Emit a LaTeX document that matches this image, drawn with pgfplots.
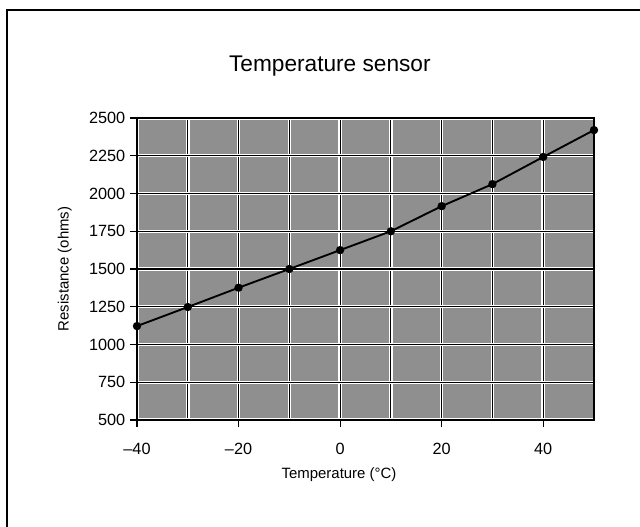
\documentclass[border=0pt]{standalone}
\usepackage{pgfplots}
\pgfplotsset{compat=1.18}
\usepackage{fontspec}
\setmainfont{Liberation Sans}
\begin{document}
\begin{tikzpicture}
% page = 640x527 px, 1 px = 0.75pt, axis box SW corner at the origin
\path[use as bounding box] (-102.75pt,-80.25pt) rectangle (377.25pt,315pt);
\draw[line width=1.1pt] (-97.5pt,-85pt) -- (-97.5pt,307.5pt) -- (385pt,307.5pt);
\begin{axis}[
    at={(0,0)}, anchor=south west,
    scale only axis,
    width=342.75pt, height=226.5pt,
    xmin=-40, xmax=50, ymin=500, ymax=2500,
    xtick={-40,-20,0,20,40},
    xticklabels={--40,--20,0,20,40},
    minor xtick={-30,-10,10,30},
    ytick={500,750,...,2500},
    xtick pos=bottom, ytick pos=left,
    /pgf/number format/1000 sep={},
    /pgf/number format/assume math mode=true,
    tick align=outside,
    major tick length=5.25pt,
    minor tick length=0pt,
    tick style={black, line width=0.9pt},
    axis line style={line width=1pt},
    grid=both,
    major grid style={black, line width=0.9pt, preaction={draw=white, line width=2.6pt}},
    minor grid style={black, line width=0.9pt, preaction={draw=white, line width=2.6pt}},
    axis background/.style={fill=black!44},
    ticklabel style={font=\fontsize{12.2}{14}\selectfont},
    xticklabel style={yshift=-8.5pt},
    xlabel={Temperature (°C)},
    ylabel={Resistance (ohms)},
    label style={font=\fontsize{11.2}{13}\selectfont},
    xlabel style={at={(axis description cs:0.442,-0.18)}, anchor=center},
    ylabel style={at={(axis description cs:-0.158,0.5)}, anchor=center},
    title={Temperature sensor},
    title style={font=\fontsize{17}{20}\selectfont, at={(axis description cs:0.422,1.145)}, anchor=center},
]
\addplot[black, line width=1.4pt, mark=*, mark size=2.4pt] coordinates {
    (-40,1122) (-30,1248) (-20,1376) (-10,1500) (0,1625)
    (10,1750) (20,1916) (30,2062) (40,2242) (50,2420)};
\end{axis}
\end{tikzpicture}
\end{document}
